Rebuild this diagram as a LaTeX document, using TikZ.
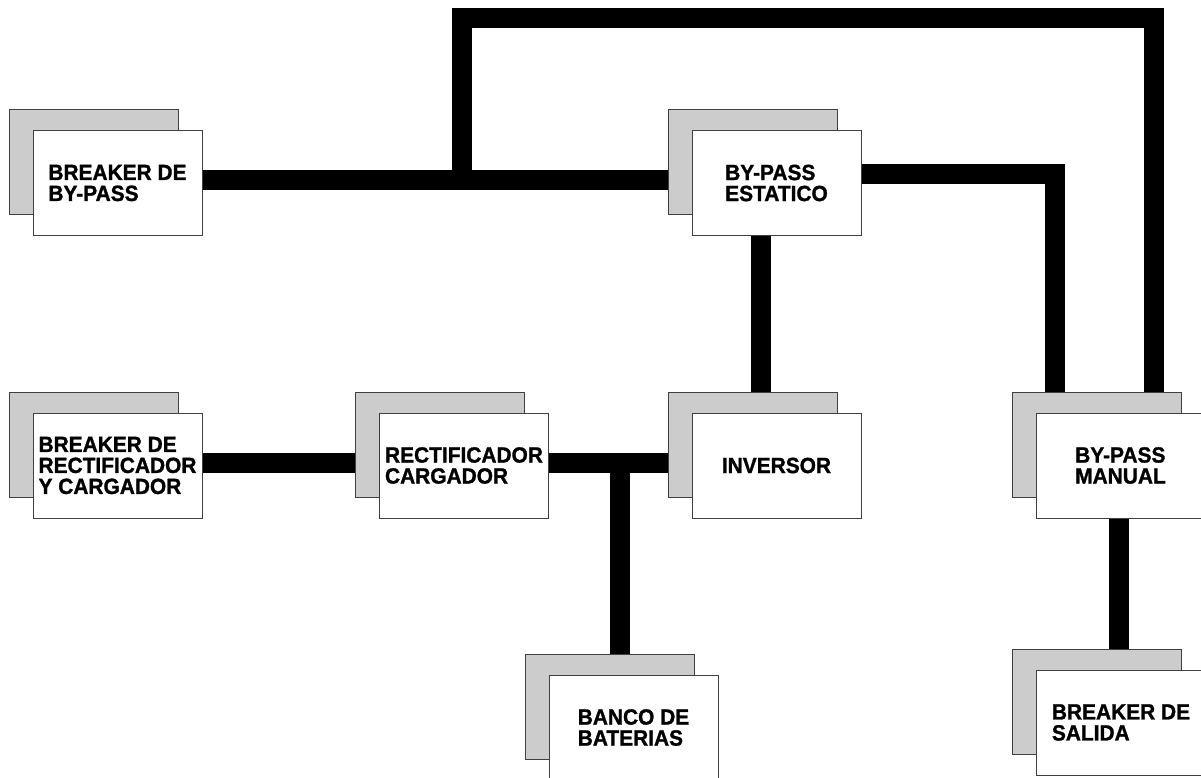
\documentclass[tikz,border=0pt]{standalone}
\usepackage{fontspec}
\setmainfont{Liberation Sans}
\newfontfamily\boxfont{Liberation Sans Bold}[FakeBold=1.2, FakeStretch=0.95]
\usetikzlibrary{backgrounds}
\tikzstyle{shadowbox} = [rectangle, minimum width=169pt, minimum height=105pt, inner sep=0pt,
draw=black!75, line width=1pt, fill=black!20]
\tikzstyle{mainbox} = [rectangle, minimum width=169pt, minimum height=105pt, inner sep=0pt,
draw=black!75, line width=1pt, fill=white, align=left, font=\boxfont\fontsize{22}{21}\selectfont]
\tikzstyle{bus} = [line width=20pt, black]

\begin{document}
\begin{tikzpicture}[x=1pt, y=-1pt]
        \useasboundingbox (0,0) rectangle (1201,778);

        % Upper row
        \node[shadowbox] at (93.5,162) (bpb-s) {};
        \node[mainbox] at (117.5,183) (bpb) {BREAKER DE\\BY-PASS};

        \node[shadowbox] at (752.5,162) (est-s) {};
        \node[mainbox] at (776.5,183) (est) {BY-PASS\\ESTATICO};

        % Middle row
        \node[shadowbox] at (93.5,444.5) (brc-s) {};
        \node[mainbox] at (117.5,465.5) (brc) {BREAKER DE\\RECTIFICADOR\\Y CARGADOR};

        \node[shadowbox] at (440,444.5) (rec-s) {};
        \node[mainbox] at (464,465.5) (rec) {RECTIFICADOR\\CARGADOR};

        \node[shadowbox] at (752.5,444.5) (inv-s) {};
        \node[mainbox] at (776.5,465.5) (inv) {INVERSOR};

        \node[shadowbox] at (1096.5,444.5) (man-s) {};
        \node[mainbox] at (1120.5,465.5) (man) {BY-PASS\\MANUAL};

        % Lower row
        \node[shadowbox] at (609.5,706.5) (ban-s) {};
        \node[mainbox] at (633.5,727.5) (ban) {BANCO DE\\BATERIAS};

        \node[shadowbox] at (1097,701.5) (sal-s) {};
        \node[mainbox] at (1121,722.5) (sal) {BREAKER DE\\SALIDA};

        % Bus bars behind the boxes
        \begin{scope}[on background layer]
            \coordinate (tap) at (462,180);
            \coordinate (ret) at (462,18);
            \coordinate (bat) at (620,463);

            \draw[bus] ([yshift=3pt]bpb.east) -- ([yshift=3pt]bpb.east -| est-s.west);
            \draw[bus] (tap) -- (ret) -| ([xshift=57.5pt]man-s.north);
            \draw[bus] ([yshift=9pt]est.east) -| ([xshift=-42pt]man-s.north);
            \draw[bus] ([xshift=-16pt]est.south) -- ([xshift=-16pt]est.south |- inv-s.north);

            \draw[bus] ([yshift=2.5pt]brc.east) -- ([yshift=2.5pt]brc.east -| rec-s.west);
            \draw[bus] ([yshift=2.5pt]rec.east) -- ([yshift=2.5pt]rec.east -| inv-s.west);
            \draw[bus] (bat) -- (bat |- ban-s.north);
            \draw[bus] ([xshift=-1.5pt]man.south) -- ([xshift=-1.5pt]man.south |- sal-s.north);
        \end{scope}
    \end{tikzpicture}
\end{document}
